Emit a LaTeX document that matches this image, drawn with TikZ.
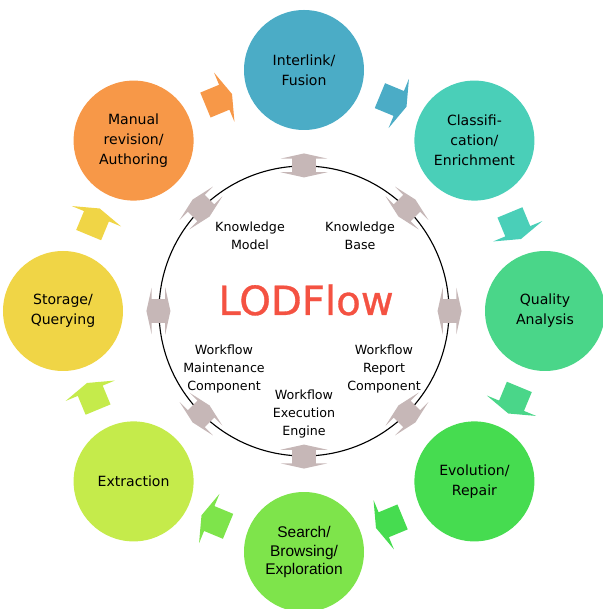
\documentclass[tikz,border=0pt]{standalone}
\usepackage{fontspec}
\setmainfont{DejaVu Sans}
\newfontfamily\arialfont{Liberation Sans}
\newfontfamily\lodfont[FakeBold=0.8]{DejaVu Sans}
\usetikzlibrary{shapes.arrows}

\definecolor{interlinkc}{HTML}{4BACC6}
\definecolor{classc}{HTML}{4ACFB8}
\definecolor{qualityc}{HTML}{4AD689}
\definecolor{evolutionc}{HTML}{46DC50}
\definecolor{searchc}{HTML}{7EE44B}
\definecolor{extractc}{HTML}{C5EB4B}
\definecolor{storagec}{HTML}{F0D546}
\definecolor{manualc}{HTML}{F79848}
\definecolor{linkgray}{HTML}{C6B7B7}
\definecolor{lodred}{HTML}{F45242}

\begin{document}
\begin{tikzpicture}[
    stage/.style={circle, minimum size=3cm, inner sep=0pt, align=center,
      font=\fontsize{10}{14.2}\selectfont},
    flow/.style={single arrow, minimum height=0.72cm, inner xsep=0pt,
      inner ysep=0.33cm, single arrow head extend=0.33cm,
      single arrow tip angle=145},
    link/.style={double arrow, fill=linkgray, minimum height=0.6cm,
      inner xsep=0pt, inner ysep=0.29cm, double arrow head extend=0.29cm,
      double arrow tip angle=155},
    part/.style={align=center, font=\fontsize{9}{13}\selectfont}
  ]

    \useasboundingbox (-7.6,-7.45) rectangle (7.45,7.775);

    \node[stage, fill=interlinkc] (Interlink) at (90:6.025) {Interlink/\\Fusion};
    \node[stage, fill=classc] (Classification) at (45:6.025)
    {Classifi-\\cation/\\Enrichment};
    \node[stage, fill=qualityc] (Quality) at (0:6.025) {Quality\\Analysis};
    \node[stage, fill=evolutionc] (Evolution) at (-45:6.025) {Evolution/\\Repair};
    \node[stage, fill=searchc, font=\arialfont\fontsize{11}{13.5}\selectfont]
    (Search) at (-90:6.025) {Search/\\Browsing/\\Exploration};
    \node[stage, fill=extractc] (Extraction) at (-135:6.025) {Extraction};
    \node[stage, fill=storagec] (Storage) at (180:6.025) {Storage/\\Querying};
    \node[stage, fill=manualc] (Manual) at (135:6.025)
    {Manual\\revision/\\Authoring};

    \node[flow, fill=interlinkc, rotate=-22.5] (toClass) at (67.5:5.7) {};
    \node[flow, fill=classc, rotate=-67.5] (toQuality) at (22.5:5.7) {};
    \node[flow, fill=qualityc, rotate=-112.5] (toEvolution) at (-22.5:5.7) {};
    \node[flow, fill=evolutionc, rotate=-157.5] (toSearch) at (-67.5:5.7) {};
    \node[flow, fill=searchc, rotate=157.5] (toExtraction) at (-112.5:5.7) {};
    \node[flow, fill=extractc, rotate=112.5] (toStorage) at (-157.5:5.7) {};
    \node[flow, fill=storagec, rotate=67.5] (toManual) at (157.5:5.7) {};
    \node[flow, fill=manualc, rotate=22.5] (toInterlink) at (112.5:5.7) {};

    \node[draw, circle, minimum size=7.25cm, inner sep=0pt, line width=0.8pt]
    (core) at (0,0) {};

    \node[link, rotate=90] (linkN) at (core.90) {};
    \node[link, rotate=45] (linkNE) at (core.45) {};
    \node[link, rotate=0] (linkE) at (core.0) {};
    \node[link, rotate=-45] (linkSE) at (core.-45) {};
    \node[link, rotate=-90] (linkS) at (core.-90) {};
    \node[link, rotate=-135] (linkSW) at (core.-135) {};
    \node[link, rotate=180] (linkW) at (core.180) {};
    \node[link, rotate=135] (linkNW) at (core.135) {};

    \node[part] (KnowledgeModel) at (-1.35,1.875) {Knowledge\\Model};
    \node[part] (KnowledgeBase) at (1.4,1.875) {Knowledge\\Base};
    \node[anchor=base, text=lodred, font=\lodfont\fontsize{28.6}{30}\selectfont]
    (LODFlow) at (0.05,-0.1) {LODFlow};
    \node[part] (Maintenance) at (-2.0,-1.45)
    {Workflow\\Maintenance\\Component};
    \node[part] (Report) at (2.0,-1.45) {Workflow\\Report\\Component};
    \node[part] (Execution) at (0,-2.575) {Workflow\\Execution\\Engine};
  \end{tikzpicture}
\end{document}
